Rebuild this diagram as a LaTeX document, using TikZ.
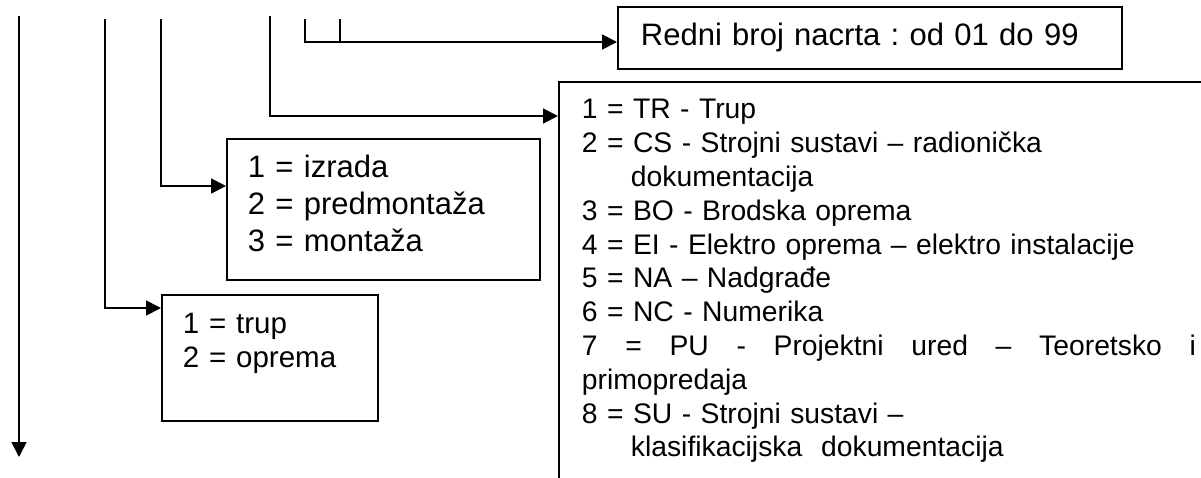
\documentclass[tikz,border=0pt]{standalone}
\usepackage{fontspec}
\setmainfont{Liberation Sans}
\usetikzlibrary{arrows.meta}
\begin{document}
\frenchspacing
\begin{tikzpicture}[x=1pt,y=-1pt,
  conn/.style={line width=1.8pt},
  arr/.style={conn,-{Triangle[length=15pt,width=15pt]}},
  box/.style={draw,line width=1.8pt,anchor=north west,align=left,
    font=\fontsize{28.3}{33.8}\selectfont,text height=22pt}
]
\useasboundingbox (0,0) rectangle (1201,477);
\clip (0,0) rectangle (1201,477);

% boxes
\node[box,font=\fontsize{31}{36}\selectfont,inner xsep=23pt,inner ysep=17pt,text width=458pt,text depth=6pt] (redni) at (617,6)
  {Redni broj nacrta : od 01 do 99};
\node[box,inner xsep=23pt,inner ysep=15pt,text width=614pt,text depth=400pt] (big) at (558,81)
  {1 = TR - Trup\\
   2 = CS - Strojni sustavi – radionička\\
   \hspace*{49pt}dokumentacija\\
   3 = BO - Brodska oprema\\
   4 = EI - Elektro oprema – elektro instalacije\\
   5 = NA – Nadgrađe\\
   6 = NC - Numerika\\
   \leavevmode\hbox to 614pt{7\hfill=\hfill PU\hfill-\hfill Projektni\hfill ured\hfill–\hfill Teoretsko\hfill i}\\
   primopredaja\\
   8 = SU - Strojni sustavi –\\
   \hspace*{49pt}klasifikacijska\ \ dokumentacija};
\node[box,font=\fontsize{31}{37}\selectfont,inner xsep=21pt,inner ysep=17pt,text width=271pt,text depth=85pt] (izrada) at (226,138)
  {1 = izrada\\ 2 = predmontaža\\ 3 = montaža};
\node[box,font=\fontsize{29.5}{33.8}\selectfont,inner xsep=21pt,inner ysep=17pt,text width=174pt,text depth=70pt] (trup) at (161,294)
  {1 = trup\\ 2 = oprema};

% connector start points
\coordinate (a0) at (19,16);
\coordinate (a1) at (19,457);
\coordinate (b0) at (105,19);
\coordinate (c0) at (161,19);
\coordinate (d0) at (270,16);
\coordinate (t1) at (305,19);
\coordinate (t2) at (340,19);
\coordinate (t2b) at (340,42);

% connectors
\draw[arr] (a0) -- (a1);
\draw[arr] (b0) |- ([yshift=-14pt]trup.north west);
\draw[arr] (c0) |- ([yshift=-48pt]izrada.north west);
\draw[arr] (d0) |- ([yshift=-35pt]big.north west);
\draw[arr] (t1) |- ([yshift=-36pt]redni.north west);
\draw[conn] (t2) -- (t2b);
\end{tikzpicture}
\end{document}
